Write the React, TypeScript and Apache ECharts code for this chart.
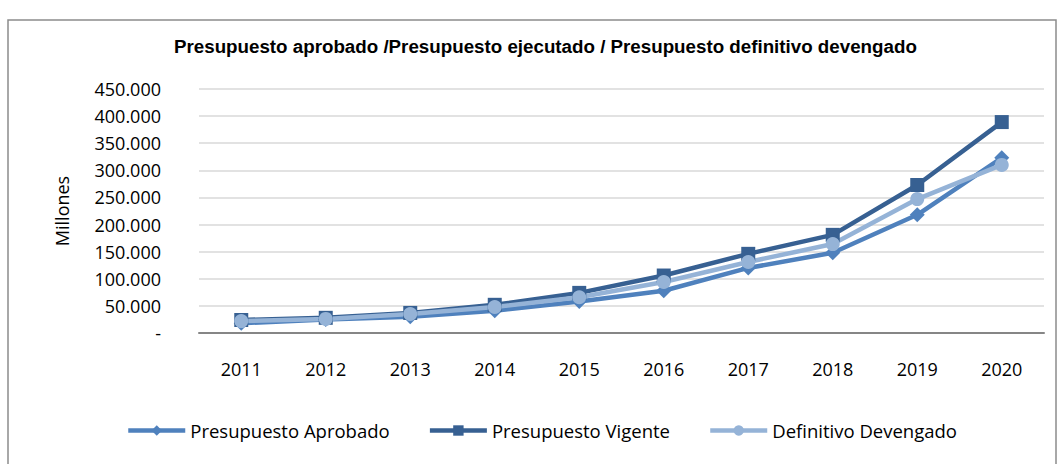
import React, { useEffect, useRef } from "react";
import * as echarts from "echarts";

const years = ["2011", "2012", "2013", "2014", "2015", "2016", "2017", "2018", "2019", "2020"];
const aprobado = [18000, 25000, 30000, 41000, 58000, 78000, 120000, 148000, 218000, 323000];
const vigente = [24000, 28000, 37000, 52000, 74000, 106000, 146000, 181000, 273000, 389000];
const devengado = [22000, 26000, 35000, 48000, 66000, 94000, 131000, 164000, 247000, 310000];

const titleText = "Presupuesto aprobado /Presupuesto ejecutado / Presupuesto definitivo devengado";
const names = ["Presupuesto Aprobado", "Presupuesto Vigente", "Definitivo Devengado"];
const colors = ["#4F81BD", "#376092", "#95B3D7"];

function fmt(v: number): string {
  if (v === 0) return "-";
  return String(v).replace(/\B(?=(\d{3})+(?!\d))/g, ".");
}

export default function App() {
  const ref = useRef<HTMLDivElement>(null);
  useEffect(() => {
    if (!ref.current) return;
    const chart = echarts.init(ref.current, undefined, { renderer: "svg" });
    const font = "'Open Sans', 'Noto Sans', sans-serif";
    const mk = (i: number, data: number[], symbol: string, size: number) => ({
      name: names[i],
      type: "line",
      data,
      symbol,
      symbolSize: size,
      showAllSymbol: true,
      itemStyle: { color: colors[i] },
      lineStyle: { color: colors[i], width: 4.5 },
    });
    chart.setOption({
      animation: false,
      backgroundColor: "#ffffff",
      textStyle: { fontFamily: font },
      title: {
        text: titleText,
        left: 169,
        top: 32,
        textStyle: { fontFamily: "'Liberation Sans Narrow', sans-serif", fontWeight: "bold", fontSize: 18.75, color: "#000" },
      },
      graphic: [
        {
          type: "rect",
          shape: { x: 8, y: 20, width: 1048, height: 470 },
          style: { fill: "none", stroke: "#8c8c8c", lineWidth: 1.5 },
          silent: true,
        },
      ],
      legend: {
        bottom: 19,
        left: 121,
        itemWidth: 57,
        itemHeight: 13,
        itemGap: 38,
        lineStyle: { width: 4.5 },
        textStyle: { fontFamily: font, fontSize: 18.5, color: "#000" },
        data: names,
      },
      grid: { left: 199, right: 20, top: 89, bottom: 131 },
      xAxis: {
        type: "category",
        data: years,
        boundaryGap: true,
        axisLine: { lineStyle: { color: "#868686", width: 2 } },
        axisTick: { show: false },
        axisLabel: { fontSize: 18, color: "#000", margin: 27, fontFamily: font },
      },
      yAxis: {
        type: "value",
        min: 0,
        max: 450000,
        interval: 50000,
        name: "Millones",
        nameLocation: "middle",
        nameGap: 128,
        nameRotate: 90,
        nameTextStyle: { fontSize: 18, color: "#000", fontFamily: font },
        axisLine: { show: false },
        axisTick: { show: false },
        splitLine: { lineStyle: { color: "#D9D9D9", width: 1.5 } },
        axisLabel: { fontSize: 18, color: "#000", margin: 38, fontFamily: font, formatter: fmt },
      },
      series: [
        mk(0, aprobado, "diamond", 15),
        mk(1, vigente, "rect", 14),
        mk(2, devengado, "circle", 14),
      ],
    });
    return () => chart.dispose();
  }, []);
  return <div ref={ref} style={{ position: "fixed", left: 0, top: 0, width: 1064, height: 464 }} />;
}
